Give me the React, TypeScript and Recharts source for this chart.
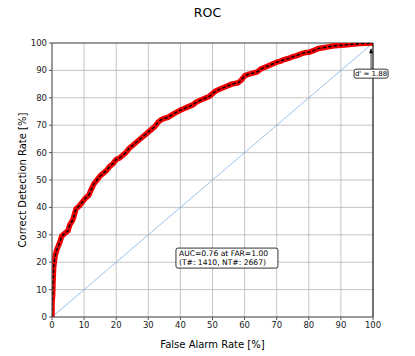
import React from "react";
import {
  LineChart, Line, XAxis, YAxis, CartesianGrid, ReferenceLine, ReferenceDot, Label,
} from "recharts";

// ROC curve: false alarm rate [%] vs correct detection rate [%]
const far = [
  0, 0, 0.2, 0.3, 0.4, 0.5, 0.7, 1, 1.5, 2, 2.5, 3, 4, 5, 5.5, 6.5, 7, 7.5, 8.5, 9.5,
  10.5, 11.5, 12, 13, 14, 15, 16, 17, 18, 19, 20, 21, 22, 23, 24, 25, 26, 27, 28, 29,
  30, 31, 32, 33, 34, 35, 36, 37, 38, 40, 41, 42, 44, 45, 46, 48, 49, 50, 51, 52,
  54, 56, 58, 59, 60, 61, 62, 64, 65, 66, 68, 70, 71, 72, 74, 75, 76, 78, 79, 80,
  82, 83, 84, 86, 88, 90, 92, 94, 96, 98, 100,
];
const cdr = [
  0, 5, 8, 12, 15, 18, 20, 22.5, 24.5, 26, 27.5, 29.5, 30.5, 31.5, 33.5, 35.5, 37.5, 39.5, 40.5, 42,
  43.5, 44.5, 46, 48.5, 50, 51.5, 52.5, 53.5, 55, 56, 57.5, 58, 59, 60, 61.5, 62.5, 63.5, 64.5, 65.5, 66.5,
  67.5, 68.5, 69.5, 71, 72, 72.5, 72.8, 73.5, 74.2, 75.5, 76, 76.5, 77.5, 78.5, 79, 80, 80.5, 81.5, 82.5, 83,
  84, 85, 85.5, 86.5, 88, 88.5, 88.8, 89.5, 90.5, 91, 92, 93, 93.3, 93.8, 94.5, 95, 95.3, 96.2, 96.5, 96.6,
  97.5, 98, 98.2, 98.6, 99, 99.2, 99.4, 99.6, 99.8, 99.9, 100,
];
const chanceFar = [0, 100];
const chanceCdr = [0, 100];
const ticks = [0, 10, 20, 30, 40, 50, 60, 70, 80, 90, 100];

const rocData = far.map((x, i) => ({ x, y: cdr[i] }));
const chanceData = chanceFar.map((x, i) => ({ x, y: chanceCdr[i] }));

const FONT = "DejaVu Sans, sans-serif";
const tickStyle = { fill: "#222", fontSize: 8.5, fontFamily: FONT };

function AucBox({ cx, cy }: any) {
  return (
    <g>
      <rect x={cx - 51} y={cy - 10} width={102} height={20} rx={2} fill="#fff" stroke="#000" strokeWidth={0.8} />
      <text x={cx - 48} y={cy - 2} fontSize={7.6} fontFamily={FONT} fill="#000">AUC=0.76 at FAR=1.00</text>
      <text x={cx - 48} y={cy + 7} fontSize={7.6} fontFamily={FONT} fill="#000">(T#: 1410, NT#: 2667)</text>
    </g>
  );
}

function DPrimeBox({ cx, cy }: any) {
  return (
    <g>
      <line x1={cx} y1={cy - 4} x2={cx} y2={cy - 24} stroke="#000" strokeWidth={0.8} />
      <path d={`M ${cx - 2} ${cy - 20} L ${cx} ${cy - 25} L ${cx + 2} ${cy - 20} Z`} fill="#000" />
      <rect x={cx - 17} y={cy - 4} width={34} height={9} rx={2} fill="#fff" stroke="#000" strokeWidth={0.8} />
      <text x={cx} y={cy + 3.2} fontSize={7} fontFamily={FONT} textAnchor="middle" fill="#000">d' = 1.88</text>
    </g>
  );
}

export default function App() {
  return (
    <div style={{ position: "absolute", left: 0, top: 0, width: 415, height: 356, background: "#fff" }}>
      <div style={{
        position: "absolute", left: 0, top: 5, width: 415, textAlign: "center",
        fontFamily: FONT, fontSize: 12.5, color: "#000",
      }}>ROC</div>
      <LineChart width={415} height={356} margin={{ top: 43, right: 42, bottom: 0, left: 0 }}>
        <CartesianGrid stroke="#b5b5b5" strokeWidth={0.8} horizontalValues={ticks} verticalValues={ticks} />
        <XAxis
          type="number" dataKey="x" domain={[0, 100]} ticks={ticks} height={39}
          tick={tickStyle} tickSize={3} tickMargin={2} stroke="#555" allowDataOverflow
        >
          <Label value="False Alarm Rate [%]" position="insideBottom" offset={8}
            style={{ fontSize: 10, fontFamily: FONT, fill: "#000" }} />
        </XAxis>
        <YAxis
          type="number" dataKey="y" domain={[0, 100]} ticks={ticks} width={52}
          tick={tickStyle} tickSize={3} tickMargin={2} stroke="#555" allowDataOverflow
        >
          <Label value="Correct Detection Rate [%]" angle={-90} position="insideLeft" offset={22}
            style={{ fontSize: 10, fontFamily: FONT, fill: "#000", textAnchor: "middle" }} />
        </YAxis>
        <ReferenceLine y={100} stroke="#555" strokeWidth={1} />
        <Line data={chanceData} dataKey="y" stroke="#6fa8dc" strokeWidth={0.7} dot={false}
          isAnimationActive={false} />
        <Line data={rocData} dataKey="y" stroke="#f00000" strokeWidth={5.5} strokeLinejoin="round"
          strokeLinecap="round" dot={false} isAnimationActive={false} />
        <Line data={rocData} dataKey="y" stroke="#000" strokeWidth={1.4} strokeDasharray="3.5 2"
          dot={false} isAnimationActive={false} />
        <ReferenceLine x={100} stroke="#000" strokeWidth={1} />
        <ReferenceDot x={54.5} y={21.5} r={0} shape={(p: any) => <AucBox {...p} />} />
        <ReferenceDot x={99.4} y={89} r={0} shape={(p: any) => <DPrimeBox {...p} />} />
      </LineChart>
    </div>
  );
}
